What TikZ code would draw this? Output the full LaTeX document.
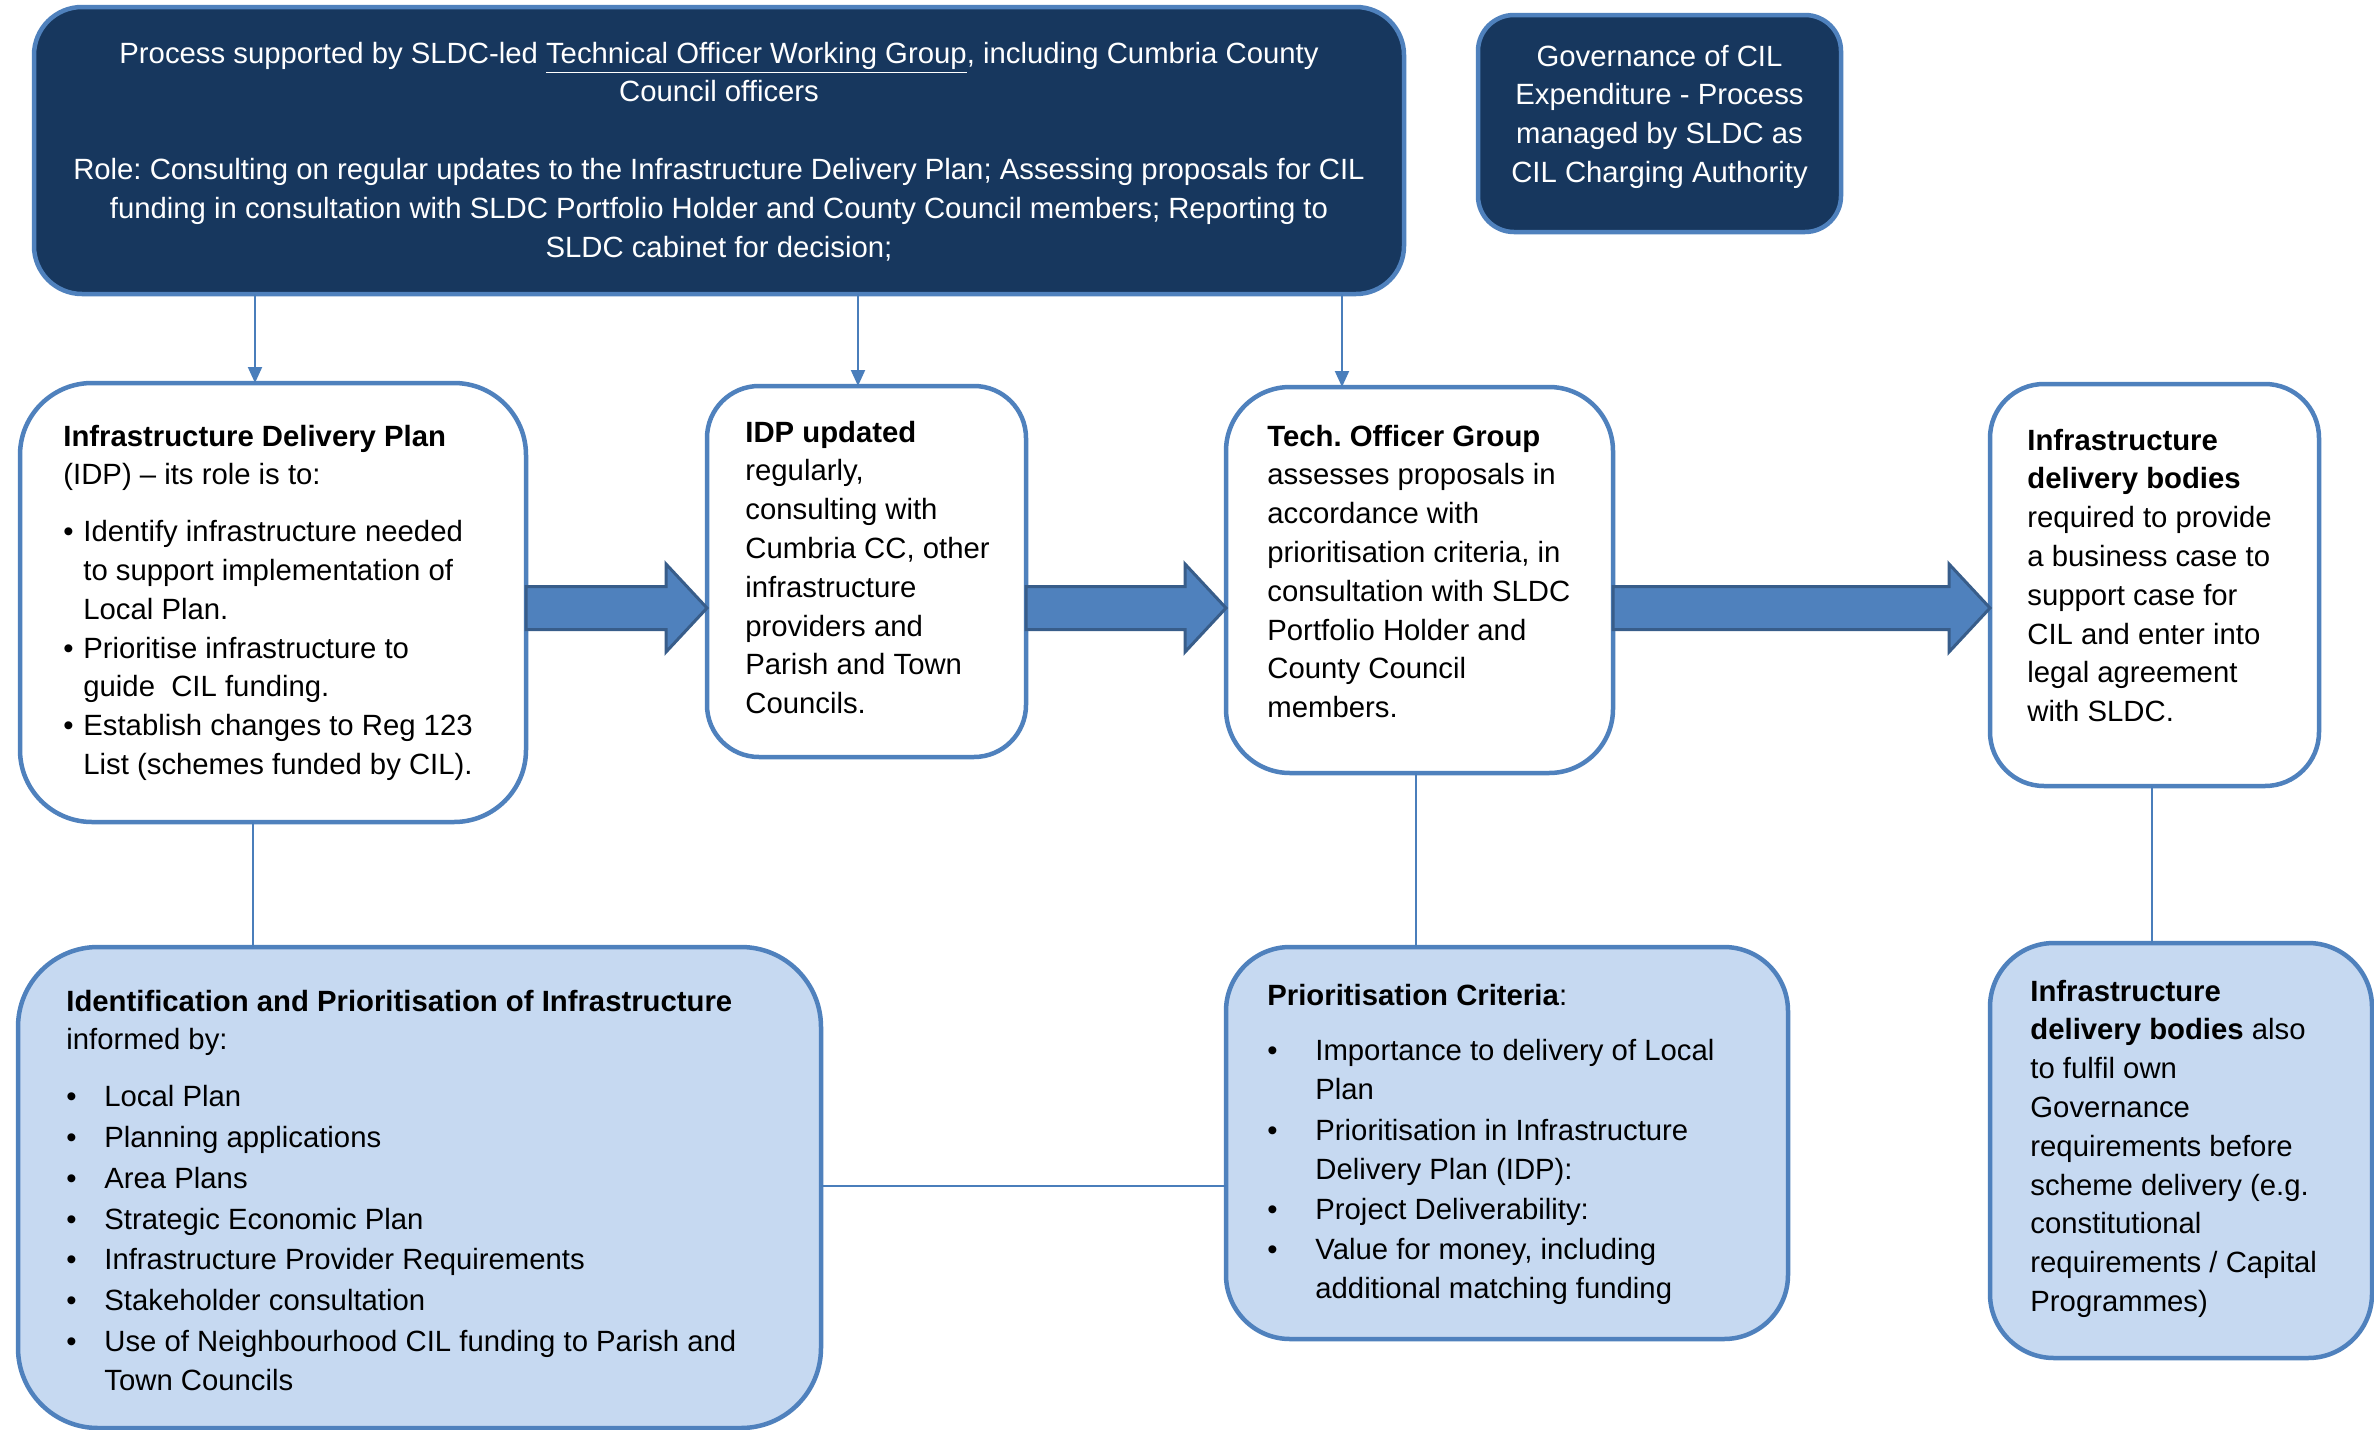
\documentclass[tikz,border=0pt]{standalone}
\usepackage{fontspec}
\setmainfont{Liberation Sans}
\usetikzlibrary{arrows.meta,calc}
\definecolor{navy}{HTML}{17375E}
\definecolor{bord}{HTML}{4F81BD}
\definecolor{lite}{HTML}{C6D9F1}
\definecolor{arrfill}{HTML}{4F81BD}
\definecolor{arredge}{HTML}{385D8A}
\definecolor{connc}{HTML}{4A7EBB}
\frenchspacing
\newcommand\fs{\fontsize{14.65pt}{19.4pt}\selectfont\frenchspacing}
\newcommand\bl[1]{\makebox[#1][l]{\textbullet}}
\newcommand\ind[1]{\makebox[#1][l]{}}
\newcommand\blockarrow[2]{\filldraw[barrow] let \p1=(#1.east |- ay), \p2=(#2.west |- ay) in
  (\x1,\y1+10.75pt) -- (\x2-20.5pt,\y1+10.75pt) -- (\x2-20.5pt,\y1+22pt) -- (\x2,\y1)
  -- (\x2-20.5pt,\y1-22pt) -- (\x2-20.5pt,\y1-10.75pt) -- (\x1,\y1-10.75pt) -- cycle;}
\begin{document}
\begin{tikzpicture}[x=0.5pt,y=-0.5pt,
  box/.style={draw=bord, line width=2.25pt, rectangle, inner sep=0pt, outer sep=0pt},
  navybox/.style={box, fill=navy},
  whitebox/.style={box, fill=white},
  litebox/.style={box, fill=lite},
  txt/.style={inner sep=0pt, anchor=north west, align=left, font=\fs},
  conn/.style={draw=connc, line width=1pt},
  darr/.style={conn, -{Triangle[width=7pt,length=8pt]}, fill=connc},
  barrow/.style={fill=arrfill, draw=arredge, line width=1.5pt, line join=miter}]
\useasboundingbox (0,0) rectangle (2374,1430);
\fill[white] (0,0) rectangle (2374,1430);

% boxes
\node[navybox, minimum width=685pt, minimum height=143.5pt, rounded corners=24pt] (top) at (719,150.5) {};
\node[navybox, minimum width=181.5pt, minimum height=108.5pt, rounded corners=18pt] (gov) at (1659.5,123.5) {};
\node[whitebox, minimum width=253pt, minimum height=219.5pt, rounded corners=36pt] (idp) at (273,602.5) {};
\node[whitebox, minimum width=159.5pt, minimum height=185.5pt, rounded corners=26pt] (upd) at (866.5,571.5) {};
\node[whitebox, minimum width=193.5pt, minimum height=193pt, rounded corners=32pt] (tech) at (1419.5,580) {};
\node[whitebox, minimum width=164.5pt, minimum height=201pt, rounded corners=27pt] (inf) at (2154.5,585) {};
\node[litebox, minimum width=401.5pt, minimum height=240.5pt, rounded corners=40pt] (idpri) at (419.5,1187.5) {};
\node[litebox, minimum width=281pt, minimum height=196pt, rounded corners=32pt] (crit) at (1507,1143) {};
\node[litebox, minimum width=191pt, minimum height=207.5pt, rounded corners=32pt] (inf2) at (2181,1150.5) {};

% helper coordinates
\coordinate (c1) at (255,0);
\coordinate (c2) at (858,0);
\coordinate (c3) at (1342,0);
\coordinate (c4) at (253,0);
\coordinate (c5) at (1416,0);
\coordinate (c6) at (2152,0);
\coordinate (c7) at (0,1186);
\coordinate (ay) at (0,608);

% connectors
\draw[darr] (top.south -| c1) -- (idp.north -| c1);
\draw[darr] (top.south -| c2) -- (upd.north -| c2);
\draw[darr] (top.south -| c3) -- (tech.north -| c3);
\draw[conn] (idp.south -| c4) -- (idpri.north -| c4);
\draw[conn] (tech.south -| c5) -- (crit.north -| c5);
\draw[conn] (inf.south -| c6) -- (inf2.north -| c6);
\draw[conn] (idpri.east |- c7) -- (crit.west |- c7);

% block arrows
\blockarrow{idp}{upd}
\blockarrow{upd}{tech}
\blockarrow{tech}{inf}

% texts
\node[txt, anchor=north, align=center, text=white] (ttop) at (719,41.5)
 {Process supported by SLDC-led \underline{Technical Officer Working Group}, including Cumbria County\\
  Council officers\\[19.4pt]
  Role: Consulting on regular updates to the Infrastructure Delivery Plan; Assessing proposals for CIL\\
  funding in consultation with SLDC Portfolio Holder and County Council members; Reporting to\\
  SLDC cabinet for decision;};
\node[txt, anchor=north, align=center, text=white] (tgov) at (1659.5,44.5)
 {Governance of CIL\\ Expenditure - Process\\ managed by SLDC as\\ CIL Charging Authority};
\node[txt] (tidp) at (63,424.5)
 {\textbf{Infrastructure Delivery Plan}\\
  (IDP) – its role is to:\\[9pt]
  \bl{10pt}Identify infrastructure needed\\
  \ind{10pt}to support implementation of\\
  \ind{10pt}Local Plan.\\
  \bl{10pt}Prioritise infrastructure to\\
  \ind{10pt}guide\ \ CIL funding.\\
  \bl{10pt}Establish changes to Reg 123\\
  \ind{10pt}List (schemes funded by CIL).};
\node[txt] (tupd) at (745,420.5)
 {\textbf{IDP updated}\\ regularly,\\ consulting with\\ Cumbria CC, other\\ infrastructure\\ providers and\\ Parish and Town\\ Councils.};
\node[txt] (ttech) at (1267,424.5)
 {\textbf{Tech. Officer Group}\\ assesses proposals in\\ accordance with\\ prioritisation criteria, in\\ consultation with SLDC\\ Portfolio Holder and\\ County Council\\ members.};
\node[txt] (tinf) at (2027,428.5)
 {\textbf{Infrastructure}\\ \textbf{delivery bodies}\\ required to provide\\ a business case to\\ support case for\\ CIL and enter into\\ legal agreement\\ with SLDC.};
\node[txt] (tidpri) at (66,989.5)
 {\textbf{Identification and Prioritisation of Infrastructure}\\
  informed by:\\[9pt]
  \bl{19pt}Local Plan\\[1pt]
  \bl{19pt}Planning applications\\[1pt]
  \bl{19pt}Area Plans\\[1pt]
  \bl{19pt}Strategic Economic Plan\\[1pt]
  \bl{19pt}Infrastructure Provider Requirements\\[1pt]
  \bl{19pt}Stakeholder consultation\\[1pt]
  \bl{19pt}Use of Neighbourhood CIL funding to Parish and\\
  \ind{19pt}Town Councils};
\node[txt] (tcrit) at (1267,983.5)
 {\textbf{Prioritisation Criteria}:\\[8.5pt]
  \bl{24pt}Importance to delivery of Local\\
  \ind{24pt}Plan\\[1pt]
  \bl{24pt}Prioritisation in Infrastructure\\
  \ind{24pt}Delivery Plan (IDP):\\[0.5pt]
  \bl{24pt}Project Deliverability:\\[1pt]
  \bl{24pt}Value for money, including\\
  \ind{24pt}additional matching funding};
\node[txt] (tinf2) at (2030,979.5)
 {\textbf{Infrastructure}\\ \textbf{delivery bodies} also\\ to fulfil own\\ Governance\\ requirements before\\ scheme delivery (e.g.\\ constitutional\\ requirements / Capital\\ Programmes)};
\end{tikzpicture}
\end{document}
